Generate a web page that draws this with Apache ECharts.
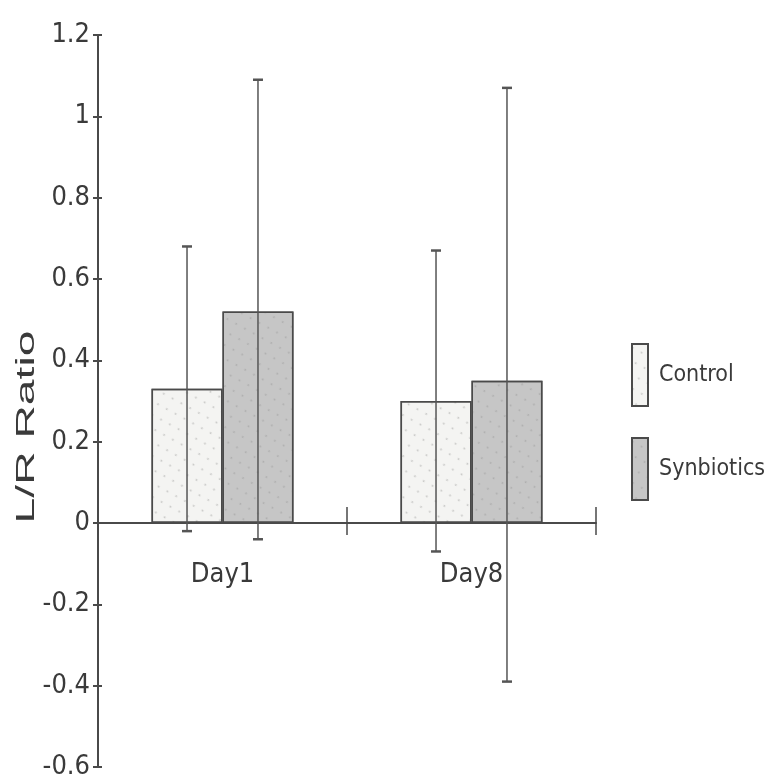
<!DOCTYPE html>
<html>
<head>
<meta charset="utf-8">
<script src="https://cdn.jsdelivr.net/npm/echarts@6/dist/echarts.min.js"></script>
<style>html,body{margin:0;padding:0;background:#fff;}#c{width:767px;height:780px;}</style>
</head>
<body>
<div id="c"></div>
<script>
var categories = ['Day1', 'Day8'];
var seriesNames = ['Control', 'Synbiotics'];
var controlMean = [0.33, 0.30];
var synbioticsMean = [0.52, 0.35];
var controlLow = [-0.02, -0.07];
var controlHigh = [0.68, 0.67];
var synbioticsLow = [-0.04, -0.39];
var synbioticsHigh = [1.09, 1.07];
var yTicks = { min: -0.6, max: 1.2, step: 0.2 };

var font = '"DejaVu Sans Condensed", "Liberation Sans Narrow", "Liberation Sans", Arial, sans-serif';
var ink = '#4a4a4a';
var barPortion = 0.57;
var gridTop = 35, gridBottom = 13, chartH = 780;
var gridH = chartH - gridTop - gridBottom;
// place the category axis at value 0 of the value axis
var zeroOffset = -gridH * (0 - yTicks.min) / (yTicks.max - yTicks.min);

function errorItem(seriesIdx) {
  return function (params, api) {
    var cat = api.value(0);
    var lo = api.value(1), hi = api.value(2);
    var band = api.size([1, 0])[0];
    var off = (seriesIdx === 0 ? -1 : 1) * band * barPortion / 4;
    var pLo = api.coord([cat, lo]);
    var pHi = api.coord([cat, hi]);
    var x = pLo[0] + off;
    var cap = 5;
    var st = { stroke: '#555', lineWidth: 1.5 };
    var capSt = { stroke: '#555', lineWidth: 2.5 };
    return {
      type: 'group',
      children: [
        { type: 'line', shape: { x1: x, y1: pLo[1], x2: x, y2: pHi[1] }, style: st },
        { type: 'line', shape: { x1: x - cap, y1: pHi[1], x2: x + cap, y2: pHi[1] }, style: capSt },
        { type: 'line', shape: { x1: x - cap, y1: pLo[1], x2: x + cap, y2: pLo[1] }, style: capSt }
      ]
    };
  };
}

function errData(low, high) {
  return categories.map(function (c, i) { return [i, low[i], high[i]]; });
}

var chart = echarts.init(document.getElementById('c'), null, { renderer: 'canvas' });
chart.setOption({
  animation: false,
  backgroundColor: '#ffffff',
  aria: { enabled: true, decal: { show: true } },
  grid: { left: 98, right: 171, top: gridTop, bottom: gridBottom, containLabel: false, outerBoundsMode: 'none' },
  legend: {
    data: seriesNames,
    orient: 'vertical',
    left: 626,
    top: 338,
    itemWidth: 16,
    itemHeight: 62,
    itemGap: 30,
    icon: 'rect',
    textStyle: { fontFamily: font, fontSize: 23, color: '#3a3a3a', padding: [0, 0, 14, 6] }
  },
  xAxis: [{
    type: 'category',
    data: categories,
    position: 'bottom',
    offset: zeroOffset,
    axisLine: { onZero: false, lineStyle: { color: ink, width: 2 } },
    axisTick: { show: true, alignWithLabel: false, inside: false, length: 12, lineStyle: { color: ink, width: 1.5 } },
    axisLabel: { fontFamily: font, fontSize: 27, color: '#3a3a3a', margin: 38 },
    splitLine: { show: false }
  }, {
    type: 'category',
    data: categories,
    position: 'bottom',
    offset: zeroOffset,
    axisLine: { show: false, onZero: false },
    axisTick: { show: true, alignWithLabel: false, inside: true, length: 16, lineStyle: { color: ink, width: 1.5 } },
    axisLabel: { show: false },
    splitLine: { show: false }
  }],
  yAxis: [{
    type: 'value',
    min: yTicks.min,
    max: yTicks.max,
    interval: yTicks.step,
    axisLine: { show: true, onZero: false, lineStyle: { color: ink, width: 2 } },
    axisTick: { show: true, inside: false, length: 5, lineStyle: { color: ink, width: 2 } },
    axisLabel: { fontFamily: font, fontSize: 27, color: '#3a3a3a', margin: 8 },
    splitLine: { show: false }
  }, {
    type: 'value',
    position: 'left',
    min: yTicks.min,
    max: yTicks.max,
    interval: yTicks.step,
    axisLine: { show: false, onZero: false },
    axisTick: { show: true, inside: true, length: 4, lineStyle: { color: ink, width: 2 } },
    axisLabel: { show: false },
    splitLine: { show: false }
  }],
  graphic: [{
    type: 'text',
    x: 27,
    y: 427,
    rotation: Math.PI / 2,
    scaleX: 1.85,
    style: {
      text: 'L/R Ratio',
      font: '25px "Liberation Sans", Arial, sans-serif',
      fill: '#3a3a3a',
      textAlign: 'center',
      textVerticalAlign: 'middle'
    }
  }],
  series: [{
    name: seriesNames[0],
    type: 'bar',
    data: controlMean,
    barGap: '0%',
    barCategoryGap: '43%',
    itemStyle: {
      color: '#f4f4f2',
      borderColor: ink,
      borderWidth: 1.5,
      decal: { symbol: 'circle', symbolSize: 0.4, color: 'rgba(0,0,0,0.18)', dashArrayX: 5, dashArrayY: 6, rotation: 0.5 }
    }
  }, {
    name: seriesNames[1],
    type: 'bar',
    data: synbioticsMean,
    barGap: '0%',
    barCategoryGap: '43%',
    itemStyle: {
      color: '#c6c6c6',
      borderColor: ink,
      borderWidth: 1.5,
      decal: { symbol: 'circle', symbolSize: 0.4, color: 'rgba(0,0,0,0.12)', dashArrayX: 5, dashArrayY: 6, rotation: 0.5 }
    }
  }, {
    name: 'err0',
    type: 'custom',
    renderItem: errorItem(0),
    data: errData(controlLow, controlHigh),
    encode: { x: 0, y: [1, 2] },
    z: 5,
    silent: true
  }, {
    name: 'err1',
    type: 'custom',
    renderItem: errorItem(1),
    data: errData(synbioticsLow, synbioticsHigh),
    encode: { x: 0, y: [1, 2] },
    z: 5,
    silent: true
  }]
});
</script>
</body>
</html>
